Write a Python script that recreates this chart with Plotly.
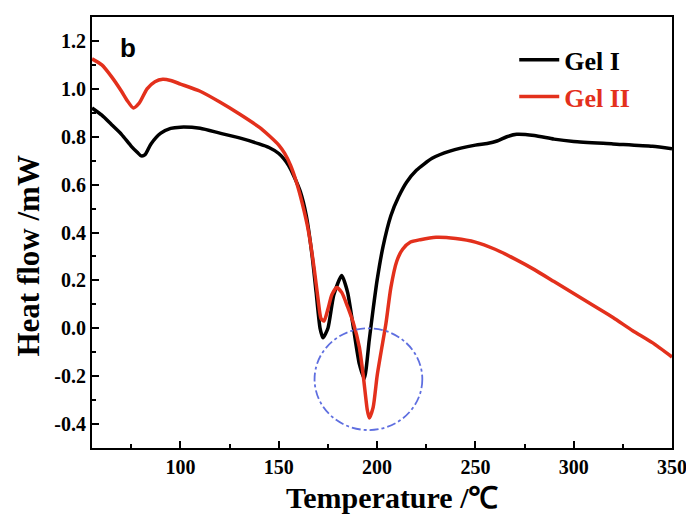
import plotly.graph_objects as go

# Gel I (black)
gel1_x = [55, 60, 65, 70, 75, 78, 80, 82, 85, 90, 95, 100, 110, 120, 130, 140, 145, 150, 155, 158,
          161, 164, 167, 169, 171, 172.5, 175, 178, 182, 185, 188, 191, 193.5, 196, 198, 200, 203,
          207, 211, 215, 220, 228, 237, 250, 256, 261, 266, 271, 280, 290, 300, 320, 340, 350]
gel1_y = [0.92, 0.89, 0.85, 0.81, 0.76, 0.735, 0.72, 0.725, 0.77, 0.815, 0.835, 0.84, 0.835, 0.815, 0.795, 0.77, 0.755, 0.73, 0.68, 0.63,
          0.57, 0.47, 0.30, 0.15, 0.0, -0.04, 0.0, 0.14, 0.22, 0.15, 0.0, -0.15, -0.21, -0.05, 0.08, 0.20, 0.34,
          0.47, 0.55, 0.61, 0.66, 0.71, 0.74, 0.765, 0.772, 0.782, 0.80, 0.81, 0.805, 0.79, 0.78, 0.77, 0.76, 0.75]

# Gel II (red)
gel2_x = [55, 60, 65, 70, 73, 76, 79, 83, 87, 91, 95, 100, 110, 120, 130, 140, 145, 150, 153, 156,
          159, 162, 165, 168, 170, 171.5, 173, 175, 177, 179.5, 182, 185, 188, 191, 193, 195, 196, 198,
          200, 202, 204.5, 207, 210, 213, 217, 222, 230, 240, 250, 260, 270, 280, 290, 300, 310, 320,
          330, 340, 350]
gel2_y = [1.125, 1.10, 1.05, 0.99, 0.95, 0.92, 0.94, 1.0, 1.03, 1.04, 1.035, 1.02, 0.99, 0.945, 0.895, 0.84, 0.805, 0.765, 0.73, 0.68,
          0.61, 0.52, 0.41, 0.25, 0.12, 0.04, 0.03, 0.08, 0.14, 0.17, 0.15, 0.09, 0.02, -0.08, -0.2, -0.34, -0.375, -0.33,
          -0.2, -0.1, 0.02, 0.17, 0.28, 0.33, 0.36, 0.37, 0.38, 0.375, 0.36, 0.33, 0.29, 0.245, 0.195, 0.145, 0.095, 0.045,
          -0.01, -0.06, -0.12]

x_ticks = [100, 150, 200, 250, 300, 350]
x_ticklabels = ["100", "150", "200", "250", "300", "350"]
y_ticks = [-0.4, -0.2, 0.0, 0.2, 0.4, 0.6, 0.8, 1.0, 1.2]
y_ticklabels = ["-0.4", "-0.2", "0.0", "0.2", "0.4", "0.6", "0.8", "1.0", "1.2"]
x_title = "Temperature /℃"
y_title = "Heat flow /mW"

RED = "#E3301C"
serif = "Liberation Serif, Times New Roman, serif"

fig = go.Figure()
fig.add_trace(go.Scatter(x=gel1_x, y=gel1_y, mode="lines", name="<b>Gel I</b>",
                         line=dict(color="black", width=3.5, shape="spline", smoothing=0.6)))
fig.add_trace(go.Scatter(x=gel2_x, y=gel2_y, mode="lines",
                         name="<b><span style='color:%s'>Gel II</span></b>" % RED,
                         line=dict(color=RED, width=3.5, shape="spline", smoothing=0.6)))

fig.add_shape(type="circle", xref="x", yref="y", x0=168.2, x1=223, y0=-0.425, y1=0.0,
              line=dict(color="#5F6FE0", width=1.8, dash="dashdot"))

fig.add_annotation(x=73.5, y=1.17, xref="x", yref="y", text="<b>b</b>", showarrow=False,
                   font=dict(family="Liberation Sans, Arial, sans-serif", size=26, color="black"))

# axis titles as annotations (positioned like the reference)
fig.add_annotation(x=0.518, y=-0.1155, xref="paper", yref="paper", text="<b>%s</b>" % x_title,
                   showarrow=False, xanchor="center", yanchor="middle",
                   font=dict(family=serif, size=30, color="black"))
fig.add_annotation(x=-0.109, y=0.446, xref="paper", yref="paper", text="<b>%s</b>" % y_title,
                   showarrow=False, xanchor="center", yanchor="middle", textangle=-90,
                   font=dict(family=serif, size=31, color="black"))

fig.update_layout(
    width=686, height=511,
    margin=dict(l=84, r=21, t=7, b=71),
    paper_bgcolor="white", plot_bgcolor="white",
    showlegend=True,
    legend=dict(x=0.728, y=0.955, xanchor="left", yanchor="top", bgcolor="rgba(0,0,0,0)",
                font=dict(family=serif, size=26, color="black"),
                tracegroupgap=0, itemwidth=40),
)
fig.update_xaxes(range=[55, 350], tickvals=x_ticks, ticktext=["<b>%s</b>" % t for t in x_ticklabels],
                 ticks="inside", ticklen=7, tickwidth=2,
                 tickcolor="black", showline=True, linecolor="black", linewidth=2, mirror=True,
                 showgrid=False, zeroline=False,
                 minor=dict(tickvals=[75, 125, 175, 225, 275, 325], ticks="inside", ticklen=4,
                            tickwidth=2, tickcolor="black"),
                 tickfont=dict(family=serif, size=20, color="black"))
fig.update_yaxes(range=[-0.5, 1.3], tickvals=y_ticks, ticktext=["<b>%s</b>" % t for t in y_ticklabels],
                 ticks="inside",
                 ticklen=7, tickwidth=2, tickcolor="black", showline=True, linecolor="black",
                 linewidth=2, mirror=True, showgrid=False, zeroline=False,
                 minor=dict(tickvals=[-0.3, -0.1, 0.1, 0.3, 0.5, 0.7, 0.9, 1.1], ticks="inside",
                            ticklen=4, tickwidth=2, tickcolor="black"),
                 tickfont=dict(family=serif, size=20, color="black"))

fig.write_html("out.html")
